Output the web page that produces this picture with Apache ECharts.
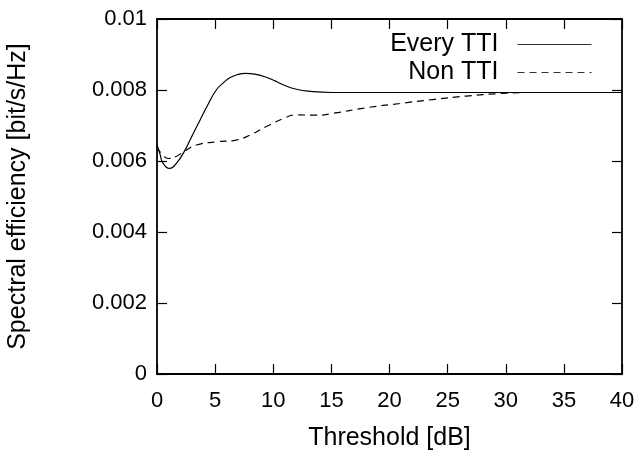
<!DOCTYPE html>
<html><head><meta charset="utf-8">
<script src="https://cdn.jsdelivr.net/npm/echarts@6/dist/echarts.min.js"></script>
<style>html,body{margin:0;padding:0;background:#fff}#c{width:641px;height:453px}</style>
</head><body><div id="c"></div>
<script>
var everyX = [0, 0.25, 0.5, 1.1, 1.7, 2.4, 3.0, 3.7, 4.4, 5.1, 5.7, 6.3, 7.0, 7.6, 8.5, 9.4, 10.2, 10.9, 12.0, 13.2, 15, 20, 30, 40];
var everyY = [0.00645, 0.0062, 0.00595, 0.00579, 0.00595, 0.0063, 0.0067, 0.00715, 0.0076, 0.0080, 0.0082, 0.00835, 0.00844, 0.00847, 0.00844, 0.00836, 0.00825, 0.00814, 0.00802, 0.00796, 0.00793, 0.00793, 0.00793, 0.00793];
var nonX = [0, 0.4, 1.0, 1.6, 2.3, 3.4, 5.1, 6.8, 8.0, 9.4, 10.9, 12.0, 13.7, 15.1, 18.0, 20.9, 23.7, 26.6, 29.5, 32.3, 40];
var nonY = [0.0064, 0.0062, 0.00607, 0.00612, 0.00626, 0.00645, 0.00654, 0.00659, 0.00673, 0.00697, 0.0072, 0.0073, 0.00729, 0.00734, 0.0075, 0.00762, 0.00773, 0.00783, 0.0079, 0.00793, 0.00793];
var seriesNames = ['Every TTI', 'Non TTI'];
var xTitle = 'Threshold [dB]';
var yTitle = 'Spectral efficiency [bit/s/Hz]';

function pairs(xs, ys){ return xs.map(function(x,i){ return [x, ys[i]]; }); }
var F = 'Liberation Sans, Arial, Helvetica, sans-serif';
var chart = echarts.init(document.getElementById('c'), null, {renderer:'canvas'});
var axisLine = {show:true, onZero:false, lineStyle:{color:'#000', width:1.8}};
var tick = {show:true, inside:true, length:10, lineStyle:{color:'#000', width:1.2}};
chart.setOption({
  animation:false,
  backgroundColor:'#fff',
  grid:{left:157, right:19, top:19, bottom:79, containLabel:false, outerBoundsMode:'none'},
  legend:{
    orient:'vertical', align:'right', right:44, top:27,
    itemWidth:74, itemHeight:20, itemGap:3,
    itemStyle:{opacity:0},
    lineStyle:{width:1, color:'#333'},
    textStyle:{fontFamily:F, fontSize:25, color:'#000', lineHeight:20, padding:[0,14,0,0]},
    data:seriesNames
  },
  xAxis:[
    {type:'value', min:0, max:40, interval:5, position:'bottom',
     axisLine:axisLine, axisTick:tick, splitLine:{show:false},
     axisLabel:{fontFamily:F, fontSize:22, color:'#000', margin:16},
     name:xTitle, nameLocation:'middle', nameGap:52,
     nameTextStyle:{fontFamily:F, fontSize:25, color:'#000'}},
    {type:'value', min:0, max:40, interval:5, position:'top',
     axisLine:axisLine, axisTick:tick, axisLabel:{show:false}, splitLine:{show:false}}
  ],
  yAxis:[
    {type:'value', min:0, max:0.01, interval:0.002, position:'left',
     axisLine:axisLine, axisTick:tick, splitLine:{show:false},
     axisLabel:{fontFamily:F, fontSize:22, color:'#000', margin:10,
       formatter:function(v){ return v===0?'0':String(+v.toFixed(3)); }},
     name:yTitle, nameLocation:'middle', nameGap:126,
     nameTextStyle:{fontFamily:F, fontSize:25, color:'#000'}},
    {type:'value', min:0, max:0.01, interval:0.002, position:'right',
     axisLine:axisLine, axisTick:tick, axisLabel:{show:false}, splitLine:{show:false}}
  ],
  series:[
    {name:seriesNames[0], type:'line', data:pairs(everyX, everyY), smooth:0.5, symbol:'none',
     lineStyle:{color:'#000', width:1.2, type:'solid'}, itemStyle:{color:'#000'}},
    {name:seriesNames[1], type:'line', data:pairs(nonX, nonY), smooth:0.5, symbol:'none',
     lineStyle:{color:'#000', width:1.2, type:[7,5]}, itemStyle:{color:'#000'}}
  ]
});
</script></body></html>
